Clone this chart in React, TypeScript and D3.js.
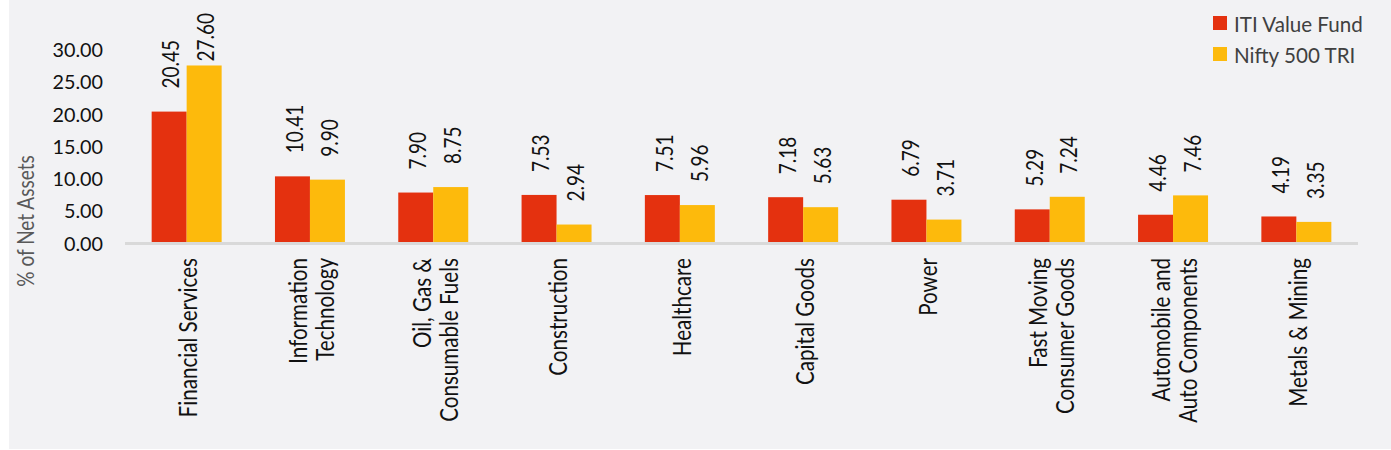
import React, { useEffect, useRef } from "react";
import * as d3 from "d3";

const categories: string[][] = [
  ["Financial Services"],
  ["Information", "Technology"],
  ["Oil, Gas &", "Consumable Fuels"],
  ["Construction"],
  ["Healthcare"],
  ["Capital Goods"],
  ["Power"],
  ["Fast Moving", "Consumer Goods"],
  ["Automobile and", "Auto Components"],
  ["Metals & Mining"],
];
const seriesNames = ["ITI Value Fund", "Nifty 500 TRI"];
const itiValues = [20.45, 10.41, 7.9, 7.53, 7.51, 7.18, 6.79, 5.29, 4.46, 4.19];
const niftyValues = [27.6, 9.9, 8.75, 2.94, 5.96, 5.63, 3.71, 7.24, 7.46, 3.35];
const yTicks = [0, 5, 10, 15, 20, 25, 30];
const colors = ["#E4310F", "#FDBA0C"];

const W = 1391;
const H = 450;
const FONT = "Lato, 'Open Sans', sans-serif";
const STRETCH = 1.22;

export default function App() {
  const ref = useRef<SVGSVGElement>(null);

  useEffect(() => {
    const svg = d3.select(ref.current!);
    svg.selectAll("*").remove();

    svg.append("rect").attr("x", 9).attr("y", 0).attr("width", W - 9).attr("height", 449).attr("fill", "#F2F2F4");

    const keys = categories.map((c) => c.join(" "));
    const x0 = d3.scaleBand<string>().domain(keys).range([125, 1358]).padding(0);
    const x1 = d3.scaleBand<number>().domain([0, 1]).range([0, x0.bandwidth()]).paddingInner(0).paddingOuter(0.762);
    const y = d3.scaleLinear().domain([0, 30]).range([243.5, 50]);

    // y ticks
    svg.append("g").selectAll("text").data(yTicks).join("text")
      .attr("x", 103).attr("y", (d) => y(d)).attr("dy", "0.36em")
      .attr("text-anchor", "end").attr("font-family", FONT).attr("font-size", 19.8).attr("fill", "#111")
      .text((d) => d.toFixed(2));

    // y title
    svg.append("text")
      .attr("transform", `translate(25,221) rotate(-90) scale(1,${STRETCH})`)
      .attr("text-anchor", "middle").attr("dominant-baseline", "central")
      .attr("font-family", FONT).attr("font-size", 19).attr("fill", "#595959")
      .text("% of Net Assets");

    const series = [itiValues, niftyValues];
    series.forEach((vals, si) => {
      const g = svg.append("g");
      g.selectAll("rect").data(vals).join("rect")
        .attr("x", (_, i) => x0(keys[i])! + x1(si)!)
        .attr("width", x1.bandwidth())
        .attr("y", (d) => y(d))
        .attr("height", (d) => y(0) - y(d))
        .attr("fill", colors[si]);
    });

    // axis line
    svg.append("line").attr("x1", 125).attr("x2", 1358).attr("y1", y(0)).attr("y2", y(0))
      .attr("stroke", "#D9D9D9").attr("stroke-width", 3);

    // data labels
    series.forEach((vals, si) => {
      vals.forEach((v, i) => {
        const cx = x0(keys[i])! + x1(si)! + x1.bandwidth() / 2;
        const t = svg.append("text")
          .attr("text-anchor", "start").attr("dominant-baseline", "central")
          .attr("font-family", FONT).attr("font-size", 19).attr("fill", "#111")
          .text(v.toFixed(2));
        const len = (t.node() as SVGTextElement).getComputedTextLength();
        const start = Math.max(y(v) - 23, 13 + len);
        t.attr("transform", `translate(${cx + 1.5},${start}) rotate(-90) scale(1,${STRETCH})`);
      });
    });

    // category labels
    categories.forEach((lines, i) => {
      const cx = x0(keys[i])! + x0.bandwidth() / 2;
      const g = svg.append("g").attr("transform", `translate(${cx + 1},258) rotate(-90) scale(1,${STRETCH})`);
      const L = 22;
      lines.forEach((ln, j) => {
        g.append("text")
          .attr("x", 0).attr("y", (j - (lines.length - 1) / 2) * L)
          .attr("text-anchor", "end").attr("dominant-baseline", "central")
          .attr("font-family", FONT).attr("font-size", 20.6).attr("fill", "#111")
          .text(ln);
      });
    });

    // legend
    const lg = svg.append("g");
    seriesNames.forEach((name, i) => {
      lg.append("rect").attr("x", 1213).attr("y", 16 + i * 31).attr("width", 14).attr("height", 14).attr("fill", colors[i]);
      lg.append("text").attr("x", 1234).attr("y", 32 + i * 30.5)
        .attr("font-family", FONT).attr("font-size", 20.6).attr("fill", "#404040").text(name);
    });
  }, []);

  return (
    <svg ref={ref} width={W} height={H} style={{ position: "absolute", left: 0, top: 0 }} />
  );
}
